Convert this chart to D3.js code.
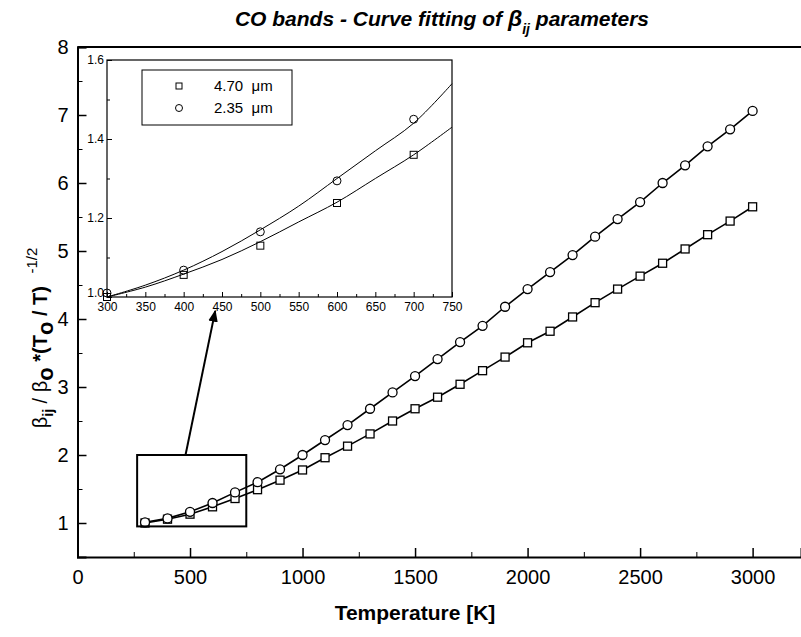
<!DOCTYPE html>
<html>
<head>
<meta charset="utf-8">
<script src="https://cdn.jsdelivr.net/npm/d3@7"></script>
<style>
  body { margin: 0; background: #fff; }
  text { font-family: "Liberation Sans", Arial, Helvetica, sans-serif; fill: #000; }
</style>
</head>
<body>
<div id="chart"></div>
<script>
// temperatures [K]
const temps = [300, 400, 500, 600, 700, 800, 900, 1000, 1100, 1200, 1300, 1400, 1500,
  1600, 1700, 1800, 1900, 2000, 2100, 2200, 2300, 2400, 2500, 2600, 2700, 2800, 2900, 3000];

// 4.70 um band (squares)
const band470 = [1.0, 1.056, 1.13, 1.238, 1.36, 1.49, 1.63, 1.78, 1.96, 2.13, 2.31, 2.50, 2.68,
  2.85, 3.04, 3.24, 3.44, 3.65, 3.82, 4.03, 4.24, 4.44, 4.63, 4.82, 5.03, 5.24, 5.44, 5.65];

// 2.35 um band (circles)
const band235 = [1.01, 1.068, 1.165, 1.294, 1.45, 1.60, 1.79, 2.0, 2.22, 2.44, 2.68, 2.92, 3.16,
  3.41, 3.66, 3.90, 4.18, 4.44, 4.69, 4.94, 5.21, 5.47, 5.72, 6.0, 6.26, 6.54, 6.79, 7.06];

// fitted curves shown in the inset
const fitTemps = [300, 350, 400, 450, 500, 550, 600, 650, 700, 750];
const fit470 = [1.0, 1.025, 1.058, 1.095, 1.14, 1.19, 1.24, 1.30, 1.36, 1.43];
const fit235 = [1.0, 1.03, 1.068, 1.115, 1.17, 1.23, 1.30, 1.37, 1.44, 1.54];

// tick labels
const xTicks = [0, 500, 1000, 1500, 2000, 2500, 3000];
const yTicks = [1, 2, 3, 4, 5, 6, 7, 8];
const insetXTicks = [300, 350, 400, 450, 500, 550, 600, 650, 700, 750];
const insetYTicks = [1.0, 1.2, 1.4, 1.6];

const legendLabels = ['4.70  \u03bcm', '2.35  \u03bcm'];

const width = 801;
const height = 637;

const svg = d3.select('#chart')
  .append('svg')
  .attr('width', width)
  .attr('height', height);

// main scales
const xScale = d3.scaleLinear().domain([0, 3215]).range([77.5, 801]);
const yScale = d3.scaleLinear().domain([0.5, 8]).range([557, 47]);

const lineColor = '#000';

// ************ main axes **********
const xAxis = d3.axisBottom(xScale)
  .tickValues(xTicks)
  .tickSize(-9)
  .tickFormat(d3.format('d'));
const xMinor = d3.axisBottom(xScale)
  .tickValues(d3.range(250, 3001, 500))
  .tickSize(-5)
  .tickFormat('');

const xAxisGroup = svg.append('g')
  .attr('transform', `translate(0, 557)`)
  .call(xAxis);
svg.append('g')
  .attr('transform', `translate(0, 557)`)
  .call(xMinor)
  .select('.domain').remove();

xAxisGroup.select('.domain').attr('stroke-width', 2);
xAxisGroup.selectAll('line').attr('stroke-width', 1.5);
xAxisGroup.selectAll('text')
  .attr('y', 13)
  .style('font-size', '20px');

const yAxis = d3.axisLeft(yScale)
  .tickValues(yTicks)
  .tickSize(-9)
  .tickFormat(d3.format('d'));
const yMinor = d3.axisLeft(yScale)
  .tickValues(d3.range(1.5, 8, 1))
  .tickSize(-5)
  .tickFormat('');

const yAxisGroup = svg.append('g')
  .attr('transform', `translate(77.5, 0)`)
  .call(yAxis);
svg.append('g')
  .attr('transform', `translate(77.5, 0)`)
  .call(yMinor)
  .select('.domain').remove();

yAxisGroup.select('.domain').attr('stroke-width', 2);
yAxisGroup.selectAll('line').attr('stroke-width', 1.5);
yAxisGroup.selectAll('text')
  .attr('x', -9)
  .style('font-size', '20px');

// top frame line
svg.append('line')
  .attr('x1', 77.5).attr('x2', width)
  .attr('y1', yScale(8)).attr('y2', yScale(8))
  .attr('stroke', lineColor)
  .attr('stroke-width', 2);

// ******* main series *********
const mainLine = d3.line()
  .x((d) => xScale(d[0]))
  .y((d) => yScale(d[1]));

const series470 = temps.map((t, i) => [t, band470[i]]);
const series235 = temps.map((t, i) => [t, band235[i]]);

[series235, series470].forEach((s) => {
  svg.append('path')
    .datum(s)
    .attr('fill', 'none')
    .attr('stroke', lineColor)
    .attr('stroke-width', 1.6)
    .attr('d', mainLine);
});

svg.selectAll('.sq')
  .data(series470)
  .enter()
  .append('rect')
  .attr('class', 'sq')
  .attr('x', (d) => xScale(d[0]) - 4)
  .attr('y', (d) => yScale(d[1]) - 4)
  .attr('width', 8)
  .attr('height', 8)
  .attr('fill', '#fff')
  .attr('stroke', lineColor)
  .attr('stroke-width', 1.3);

svg.selectAll('.ci')
  .data(series235)
  .enter()
  .append('circle')
  .attr('class', 'ci')
  .attr('cx', (d) => xScale(d[0]))
  .attr('cy', (d) => yScale(d[1]))
  .attr('r', 4.5)
  .attr('fill', '#fff')
  .attr('stroke', lineColor)
  .attr('stroke-width', 1.3);

// zoom rectangle and arrow
const zoomBox = [265, 750, 0.95, 2.0];
svg.append('rect')
  .attr('x', xScale(zoomBox[0]))
  .attr('y', yScale(zoomBox[3]))
  .attr('width', xScale(zoomBox[1]) - xScale(zoomBox[0]))
  .attr('height', yScale(zoomBox[2]) - yScale(zoomBox[3]))
  .attr('fill', 'none')
  .attr('stroke', lineColor)
  .attr('stroke-width', 2);

svg.append('defs').append('marker')
  .attr('id', 'arrow')
  .attr('viewBox', '0 0 10 10')
  .attr('refX', 9).attr('refY', 5)
  .attr('markerWidth', 6).attr('markerHeight', 6)
  .attr('markerUnits', 'strokeWidth')
  .attr('orient', 'auto')
  .append('path')
  .attr('d', 'M0,1 L10,5 L0,9 Z')
  .attr('fill', lineColor);

const arrowPts = [[480, 2.0], [612, 4.12]];
svg.append('line')
  .attr('x1', xScale(arrowPts[0][0])).attr('y1', yScale(arrowPts[0][1]))
  .attr('x2', xScale(arrowPts[1][0])).attr('y2', yScale(arrowPts[1][1]))
  .attr('stroke', lineColor)
  .attr('stroke-width', 2)
  .attr('marker-end', 'url(#arrow)');

// ************ inset **********
const ix = d3.scaleLinear().domain([300, 750]).range([107, 452]);
const iy = d3.scaleLinear().domain([1.0, 1.6]).range([297, 60]);

const inset = svg.append('g');
inset.append('rect')
  .attr('x', ix(300)).attr('y', iy(1.6))
  .attr('width', ix(750) - ix(300))
  .attr('height', iy(1.0) - iy(1.6))
  .attr('fill', '#fff')
  .attr('stroke', lineColor)
  .attr('stroke-width', 1.2);

const ixAxis = d3.axisBottom(ix)
  .tickValues(insetXTicks)
  .tickSize(-5)
  .tickPadding(5);
const ixMinor = d3.axisBottom(ix)
  .tickValues(d3.range(325, 750, 50))
  .tickSize(-3)
  .tickFormat('');
const iyAxis = d3.axisLeft(iy)
  .tickValues(insetYTicks)
  .tickSize(-5)
  .tickFormat(d3.format('.1f'));
const iyMinor = d3.axisLeft(iy)
  .tickValues([1.1, 1.3, 1.5])
  .tickSize(-3)
  .tickFormat('');

[[ixAxis, `translate(0, ${iy(1.0)})`], [ixMinor, `translate(0, ${iy(1.0)})`],
 [iyAxis, `translate(${ix(300)}, 0)`], [iyMinor, `translate(${ix(300)}, 0)`]].forEach((a) => {
  const g = inset.append('g').attr('transform', a[1]).call(a[0]);
  g.select('.domain').remove();
  g.selectAll('line').attr('stroke-width', 1);
  g.selectAll('text').style('font-size', '12px');
});

// lowest inset y label sits just above the "300" label
inset.selectAll('.tick text')
  .filter((d) => d === 1.0)
  .attr('dy', '-0.05em');

const insetLine = d3.line()
  .curve(d3.curveCatmullRom)
  .x((d) => ix(d[0]))
  .y((d) => iy(d[1]));

[fit235, fit470].forEach((f) => {
  inset.append('path')
    .datum(fitTemps.map((t, i) => [t, f[i]]))
    .attr('fill', 'none')
    .attr('stroke', lineColor)
    .attr('stroke-width', 1)
    .attr('d', insetLine);
});

const insetPts470 = series470.filter((d) => d[0] <= 700);
const insetPts235 = series235.filter((d) => d[0] <= 700);

inset.selectAll('.isq')
  .data(insetPts470)
  .enter()
  .append('rect')
  .attr('class', 'isq')
  .attr('x', (d) => ix(d[0]) - 3.5)
  .attr('y', (d) => iy(d[1]) - 3.5)
  .attr('width', 7)
  .attr('height', 7)
  .attr('fill', 'none')
  .attr('stroke', lineColor)
  .attr('stroke-width', 1);

inset.selectAll('.ici')
  .data(insetPts235)
  .enter()
  .append('circle')
  .attr('class', 'ici')
  .attr('cx', (d) => ix(d[0]))
  .attr('cy', (d) => iy(d[1]))
  .attr('r', 4)
  .attr('fill', 'none')
  .attr('stroke', lineColor)
  .attr('stroke-width', 1);

// legend
const legend = inset.append('g');
legend.append('rect')
  .attr('x', 142).attr('y', 70)
  .attr('width', 150).attr('height', 55)
  .attr('fill', '#fff')
  .attr('stroke', lineColor)
  .attr('stroke-width', 1);
legend.append('rect')
  .attr('x', 176).attr('y', 83)
  .attr('width', 6).attr('height', 6)
  .attr('fill', 'none').attr('stroke', lineColor);
legend.append('circle')
  .attr('cx', 179).attr('cy', 108).attr('r', 3.5)
  .attr('fill', 'none').attr('stroke', lineColor);
legend.selectAll('.lt')
  .data(legendLabels)
  .enter()
  .append('text')
  .attr('class', 'lt')
  .attr('x', 214)
  .attr('y', (d, i) => 91 + i * 22)
  .style('font-size', '15px')
  .style('white-space', 'pre')
  .text((d) => d);

// ************ titles **********
const title = svg.append('text')
  .attr('x', 442)
  .attr('y', 26)
  .attr('text-anchor', 'middle')
  .style('font-size', '21px')
  .style('font-weight', 'bold')
  .style('font-style', 'italic');
title.append('tspan').text('CO bands - Curve fitting of ');
title.append('tspan').style('font-size', '23px').text('\u03b2');
title.append('tspan').attr('dy', 8).style('font-size', '14px').text('ij');
title.append('tspan').attr('dy', -8).text(' parameters');

svg.append('text')
  .attr('x', 415)
  .attr('y', 620)
  .attr('text-anchor', 'middle')
  .style('font-size', '21px')
  .style('font-weight', 'bold')
  .text('Temperature [K]');

const yLabel = svg.append('text')
  .attr('transform', 'translate(47, 338) rotate(-90)')
  .attr('text-anchor', 'middle')
  .style('font-size', '20px');
yLabel.append('tspan').text('\u03b2');
yLabel.append('tspan').attr('dy', 6).style('font-size', '14px').style('font-weight', 'bold').text('ij');
yLabel.append('tspan').attr('dy', -6).text(' / \u03b2');
yLabel.append('tspan').attr('dy', 6).style('font-size', '22px').style('font-weight', 'bold').text('o');
yLabel.append('tspan').attr('dy', -6).style('font-weight', 'bold').text(' *(T');
yLabel.append('tspan').attr('dy', 6).style('font-size', '22px').style('font-weight', 'bold').text('o');
yLabel.append('tspan').attr('dy', -6).style('font-weight', 'bold').text(' / T)');
yLabel.append('tspan').attr('dy', -10).style('font-size', '15px').style('white-space', 'pre').text('   -1/2');
</script>
</body>
</html>
